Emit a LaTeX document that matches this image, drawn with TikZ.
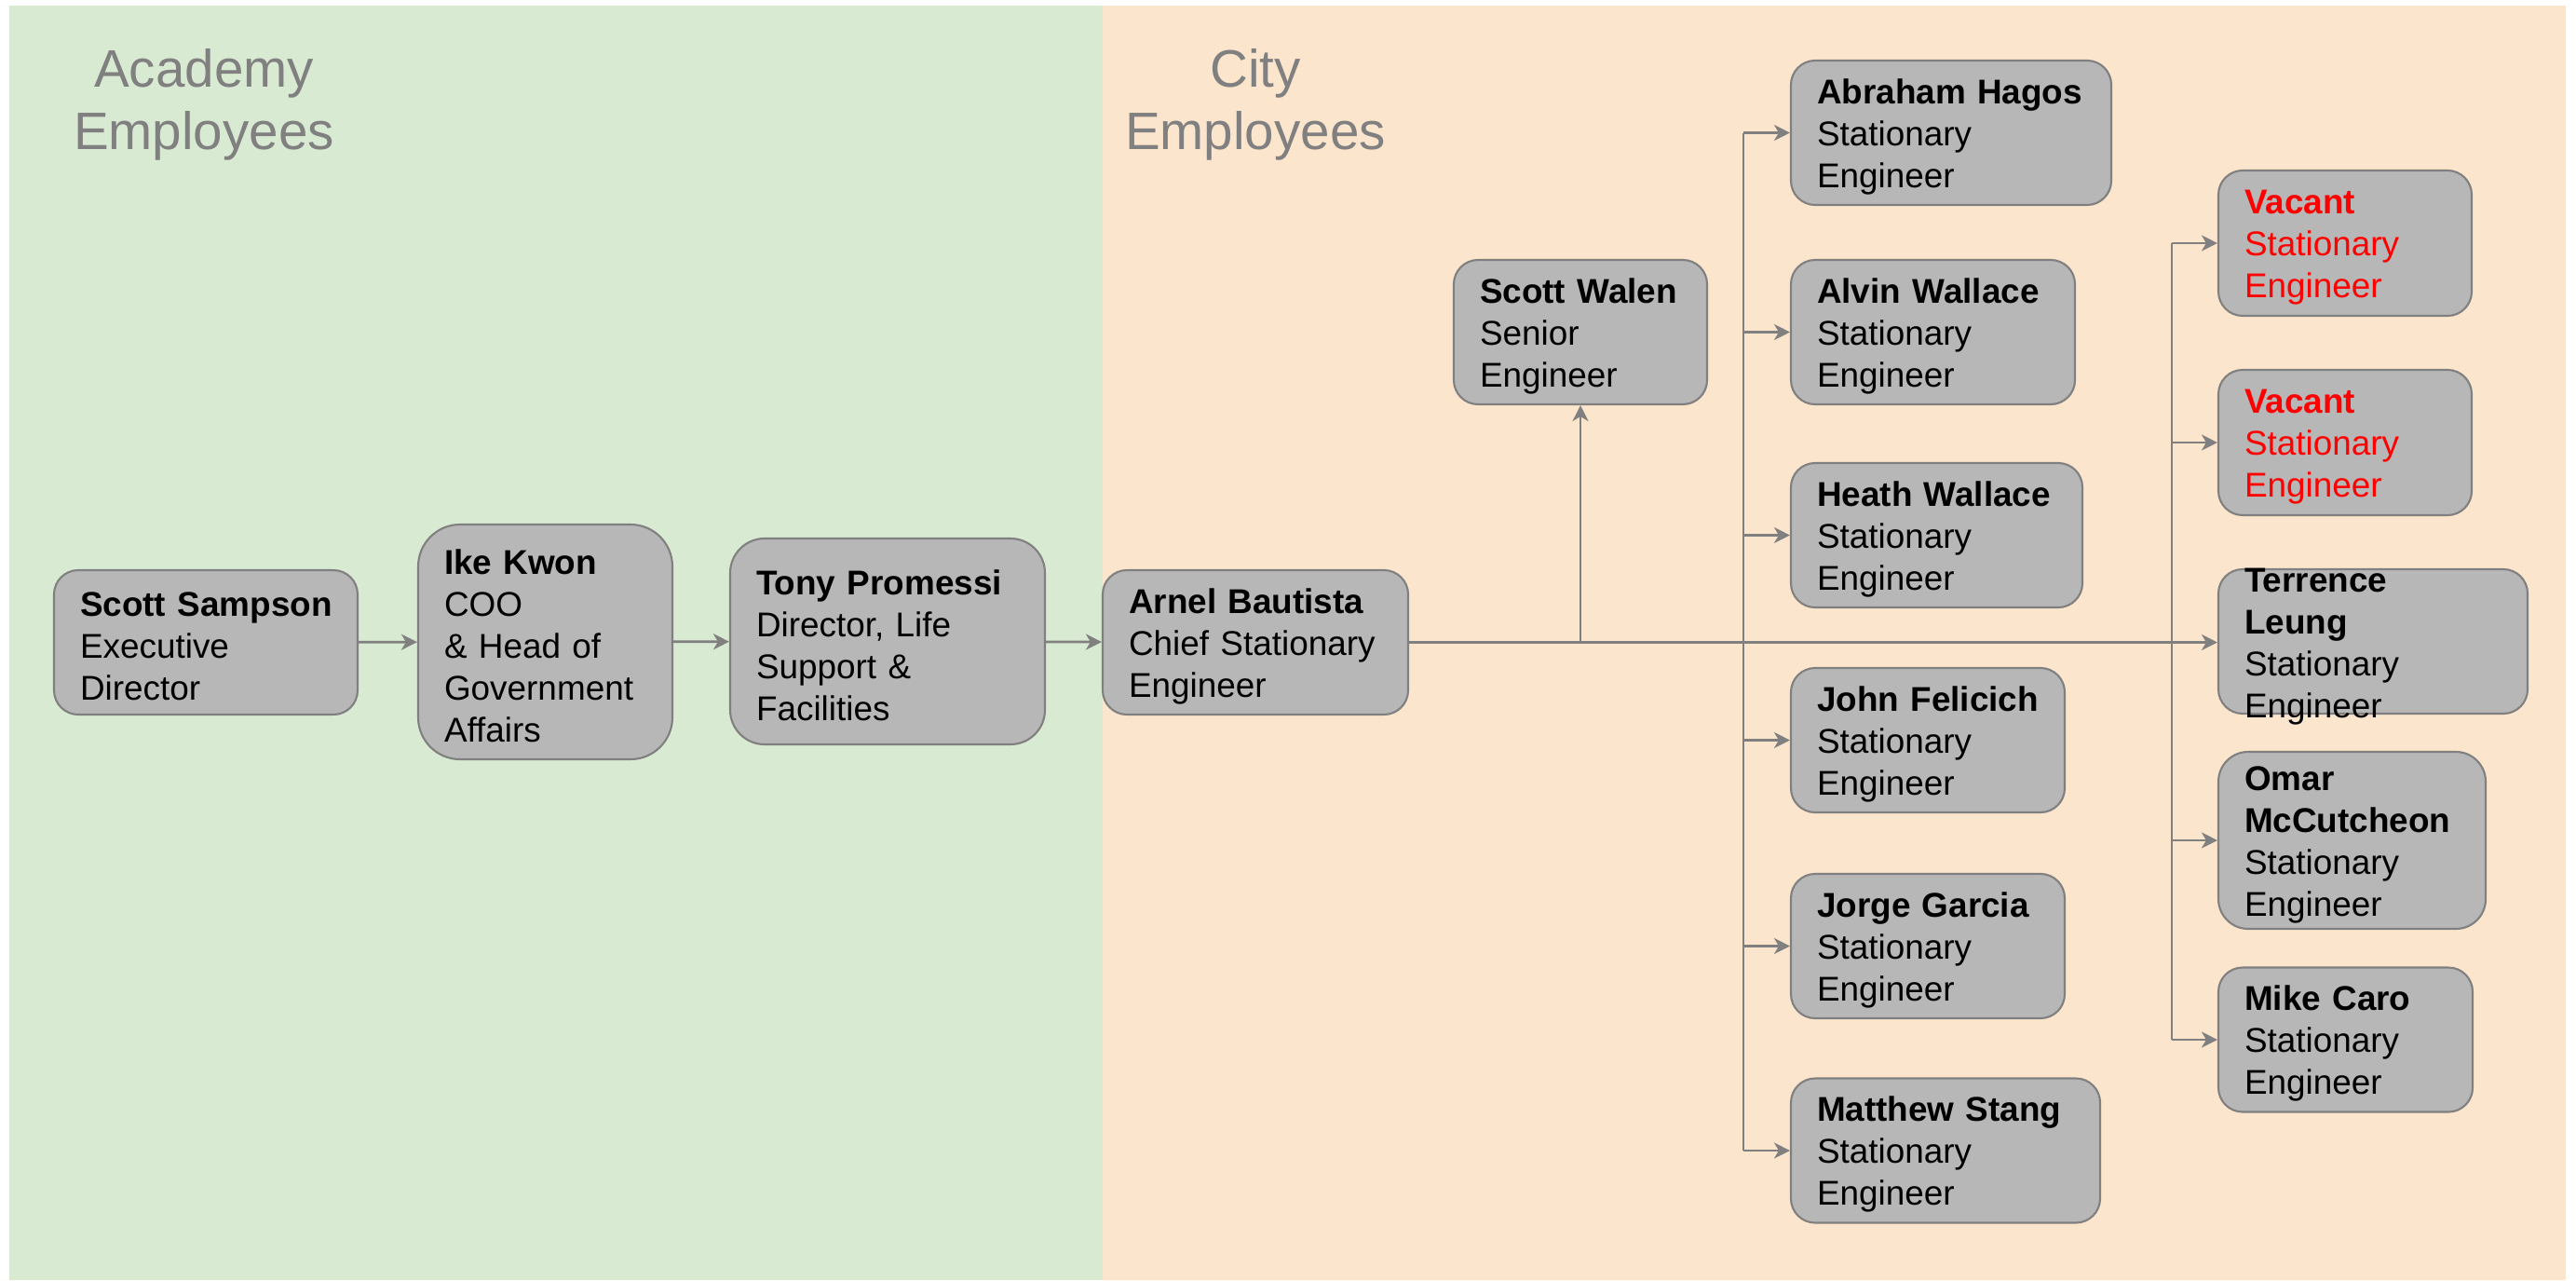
\documentclass[tikz,border=0pt]{standalone}
\usepackage{fontspec}
\setmainfont{Liberation Sans}
\usetikzlibrary{arrows.meta}
\hyphenpenalty=10000
\definecolor{academy}{HTML}{D9EAD3}
\definecolor{city}{HTML}{FCE5CD}
\definecolor{cardfill}{HTML}{B7B7B7}
\definecolor{wire}{HTML}{808080}
\definecolor{vacant}{HTML}{FF0000}
\tikzset{
  card/.style={rectangle, draw=wire, line width=0.6pt, fill=cardfill, rounded corners=0.26cm,
    align=left, inner xsep=0.28cm, inner ysep=0pt, minimum height=1.55cm,
    font=\fontsize{10.5}{12.8}\selectfont,
    execute at begin node=\rule{0pt}{0.35cm}},
  link/.style={draw=wire, line width=0.77pt, -{Stealth[length=0.17cm,width=0.17cm,inset=0.05cm]}},
  trunk/.style={draw=wire, line width=0.77pt},
  heading/.style={text=wire, align=center, inner sep=0pt, anchor=north,
    font=\fontsize{16.1}{19}\selectfont}
}
\begin{document}
\begin{tikzpicture}[x=1cm, y=-1cm]
    \useasboundingbox (0,0) rectangle (27.66,13.74);
    \fill[academy] (0.10,0.06) rectangle (11.84,13.74);
    \fill[city] (11.84,0.06) rectangle (27.55,13.74);

    \node[heading] (academy) at (2.19,0.52) {Academy\\Employees};
    \node[heading] (city) at (13.48,0.52) {City\\Employees};

    \node[card, text width=2.70cm] (sampson) at (2.21,6.895) {\textbf{Scott~Sampson}\\Executive\\Director};
    \node[card, text width=2.17cm, minimum height=2.52cm, rounded corners=0.45cm] (kwon) at (5.855,6.89) {\textbf{Ike~Kwon}\\COO\\\&~Head~of\\Government\\Affairs};
    \node[card, text width=2.82cm, minimum height=2.21cm, rounded corners=0.37cm] (promessi) at (9.53,6.885) {\textbf{Tony~Promessi}\\Director,~Life\\Support~\&\\Facilities};
    \node[card, text width=2.72cm] (bautista) at (13.48,6.895) {\textbf{Arnel~Bautista}\\Chief~Stationary\\Engineer};
    \node[card, text width=2.16cm] (walen) at (16.97,3.565) {\textbf{Scott~Walen}\\Senior\\Engineer};

    \node[card, text width=2.88cm] (hagos) at (20.95,1.425) {\textbf{Abraham~Hagos}\\Stationary\\Engineer};
    \node[card, text width=2.49cm] (alvin) at (20.755,3.565) {\textbf{Alvin~Wallace}\\Stationary\\Engineer};
    \node[card, text width=2.57cm] (heath) at (20.795,5.745) {\textbf{Heath~Wallace}\\Stationary\\Engineer};
    \node[card, text width=2.38cm] (felicich) at (20.70,7.945) {\textbf{John~Felicich}\\Stationary\\Engineer};
    \node[card, text width=2.38cm] (garcia) at (20.70,10.155) {\textbf{Jorge~Garcia}\\Stationary\\Engineer};
    \node[card, text width=2.76cm] (stang) at (20.89,12.35) {\textbf{Matthew~Stang}\\Stationary\\Engineer};

    \node[card, text width=2.16cm, minimum height=1.56cm, text=vacant] (vacantA) at (25.18,2.61) {\textbf{Vacant}\\Stationary\\Engineer};
    \node[card, text width=2.16cm, minimum height=1.56cm, text=vacant] (vacantB) at (25.18,4.75) {\textbf{Vacant}\\Stationary\\Engineer};
    \node[card, text width=2.76cm, text height=0.245cm, text depth=1.305cm] (leung) at (25.48,6.885) {\textbf{Terrence}\\\textbf{Leung}\\Stationary\\Engineer};
    \node[card, text width=2.31cm, minimum height=1.90cm, rounded corners=0.32cm] (mccutcheon) at (25.255,9.02) {\textbf{Omar}\\\textbf{McCutcheon}\\Stationary\\Engineer};
    \node[card, text width=2.17cm] (caro) at (25.185,11.16) {\textbf{Mike~Caro}\\Stationary\\Engineer};

    \coordinate (tA) at (18.72,6.89);
    \coordinate (tB) at (23.32,6.89);

    \draw[link] (sampson) -- (kwon);
    \draw[link] (kwon) -- (promessi);
    \draw[link] (promessi) -- (bautista);
    \draw[link] (bautista.east) -- (bautista.east -| leung.west);
    \draw[link] (walen |- bautista.east) -- (walen);

    \draw[trunk] (tA |- hagos) -- (tA |- stang);
    \foreach \n in {hagos,alvin,heath,felicich,garcia,stang}
        \draw[link] (tA |- \n) -- (\n);

    \draw[trunk] (tB |- vacantA) -- (tB |- caro);
    \foreach \n in {vacantA,vacantB,mccutcheon,caro}
        \draw[link] (tB |- \n) -- (\n);
\end{tikzpicture}
\end{document}
